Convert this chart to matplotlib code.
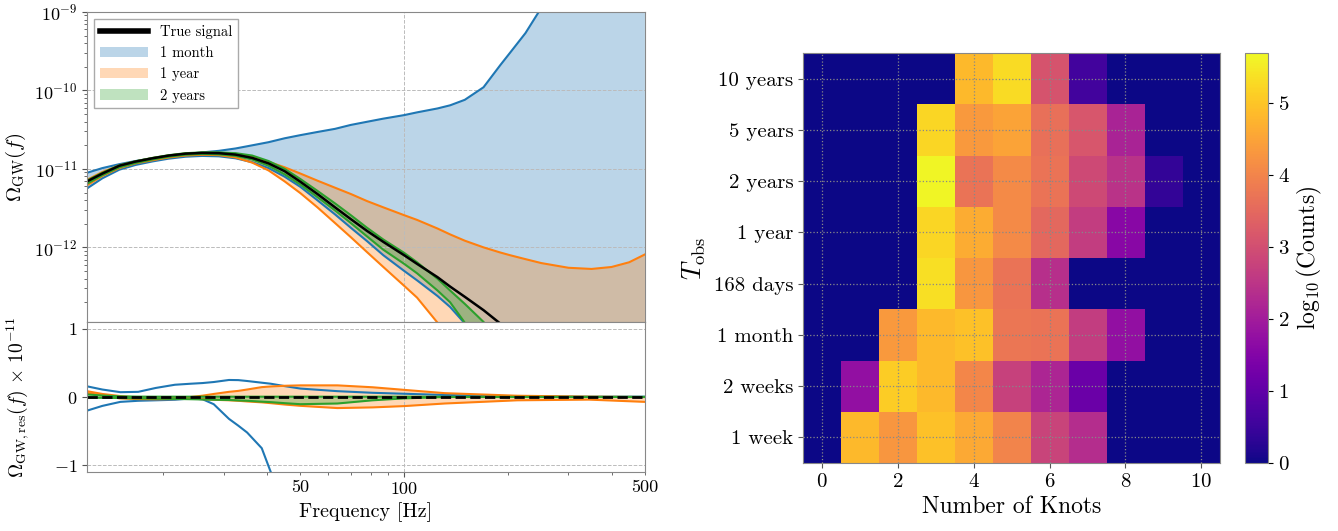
import numpy as np
import matplotlib
matplotlib.use("Agg")
import matplotlib.pyplot as plt
from matplotlib.ticker import FuncFormatter, LogLocator

plt.rcParams["font.family"] = "serif"
plt.rcParams["font.serif"] = ["cmr10"]
plt.rcParams["mathtext.fontset"] = "cm"
plt.rcParams["axes.unicode_minus"] = False
plt.rcParams["axes.formatter.use_mathtext"] = True

# reconstructed spectra, log10(Omega_GW)
freqs = [12, 13.3, 14.9, 16.6, 18.6, 20.7, 23.2, 25.9, 29, 32.4, 36.2, 40.4, 45, 50,
         56, 63, 70, 78, 87, 100, 109, 125, 136, 150, 170, 190, 203, 225, 250,
         300, 350, 400, 450, 500]
true_log = [-11.16, -11.06, -10.96, -10.907, -10.865, -10.831, -10.806, -10.797, -10.80,
            -10.818, -10.86, -10.93, -11.03, -11.165, -11.32, -11.49, -11.64, -11.79,
            -11.93, -12.10, -12.21, -12.38, -12.50, -12.63, -12.80, -12.97, -13.07,
            -13.2, -13.35, -13.6, -13.8, -14.0, -14.2, -14.4]
month_hi = [-11.05, -10.99, -10.94, -10.90, -10.865, -10.835, -10.81, -10.79, -10.77,
            -10.74, -10.70, -10.66, -10.61, -10.57, -10.53, -10.49, -10.44, -10.40,
            -10.36, -10.315, -10.28, -10.23, -10.19, -10.12, -9.96, -9.68, -9.52,
            -9.27, -8.95, -8.6, -8.3, -8.0, -7.8, -7.6]
month_lo = [-11.25, -11.12, -11.01, -10.95, -10.905, -10.87, -10.845, -10.835, -10.84,
            -10.865, -10.915, -10.99, -11.10, -11.23, -11.40, -11.58, -11.75, -11.92,
            -12.10, -12.30, -12.42, -12.62, -12.76, -12.97, -13.2, -13.45, -13.6,
            -13.8, -14.0, -14.4, -14.7, -15.0, -15.2, -15.4]
year_hi = [-11.14, -11.04, -10.955, -10.905, -10.862, -10.83, -10.805, -10.795, -10.795,
           -10.81, -10.85, -10.91, -10.98, -11.06, -11.15, -11.24, -11.32, -11.41,
           -11.49, -11.59, -11.65, -11.76, -11.835, -11.915, -12.0, -12.065, -12.10,
           -12.15, -12.20, -12.26, -12.275, -12.25, -12.19, -12.09]
year_lo = [-11.21, -11.09, -10.99, -10.93, -10.89, -10.855, -10.83, -10.82, -10.825,
           -10.855, -10.92, -11.02, -11.16, -11.31, -11.49, -11.69, -11.87, -12.06,
           -12.25, -12.49, -12.64, -12.96, -13.15, -13.4, -13.7, -14.0, -14.2,
           -14.4, -14.6, -15.0, -15.3, -15.6, -15.8, -16.0]
twoyr_hi = [-11.15, -11.05, -10.955, -10.903, -10.86, -10.826, -10.80, -10.79, -10.79,
            -10.80, -10.83, -10.90, -11.00, -11.13, -11.28, -11.44, -11.59, -11.75,
            -11.90, -12.07, -12.19, -12.40, -12.55, -12.72, -12.95, -13.2, -13.35,
            -13.5, -13.7, -14.0, -14.3, -14.5, -14.7, -14.9]
twoyr_lo = [-11.19, -11.08, -10.98, -10.925, -10.88, -10.845, -10.82, -10.81, -10.815,
            -10.835, -10.88, -10.96, -11.07, -11.20, -11.36, -11.53, -11.69, -11.86,
            -12.03, -12.21, -12.33, -12.55, -12.70, -12.96, -13.2, -13.45, -13.6,
            -13.8, -14.0, -14.3, -14.6, -14.9, -15.1, -15.3]

# residuals in units of 1e-11
res_freqs = [12, 13.3, 15, 16.9, 19, 21.6, 24, 26, 28, 31, 33, 35, 38.6, 41, 45, 50,
             64, 81, 100, 131, 213, 344, 500]
res_month_hi = [0.157, 0.11, 0.071, 0.076, 0.133, 0.18, 0.195, 0.205, 0.22, 0.25, 0.248,
                0.235, 0.21, 0.195, 0.16, 0.124, 0.086, 0.062, 0.048, 0.03, 0.012,
                0.005, 0.005]
res_month_lo = [-0.2, -0.13, -0.071, -0.055, -0.048, -0.04, -0.02, -0.033, -0.105, -0.32,
                -0.42, -0.52, -0.75, -1.1, -1.6, -2.2, -3.5, -5.0, -6.0, -8.0, -10.0,
                -12.0, -14.0]
res_year_hi = [0.086, 0.045, 0.014, -0.01, -0.02, -0.01, 0.0, 0.02, 0.045, 0.076, 0.09,
               0.11, 0.145, 0.155, 0.165, 0.171, 0.171, 0.143, 0.105, 0.057, 0.019,
               0.005, 0.0]
res_year_lo = [0.062, 0.02, -0.02, -0.03, -0.033, -0.03, -0.025, -0.03, -0.04, -0.048,
               -0.055, -0.065, -0.078, -0.09, -0.11, -0.129, -0.162, -0.152, -0.133,
               -0.095, -0.048, -0.038, -0.071]
res_twoyr_hi = [0.038, 0.022, 0.01, 0.006, 0.005, 0.005, 0.005, 0.005, 0.005, 0.005,
                0.005, 0.005, 0.005, 0.005, 0.005, 0.005, 0.005, 0.005, 0.005, 0.003,
                0.002, 0.002, 0.002]
res_twoyr_lo = [-0.01, -0.012, -0.015, -0.02, -0.024, -0.028, -0.032, -0.036, -0.04,
                -0.043, -0.05, -0.055, -0.068, -0.075, -0.09, -0.105, -0.095, -0.048,
                -0.02, 0.0, 0.0, 0.0, 0.0]

# knot-count histogram, log10(counts); rows bottom->top
knots = list(range(11))
tobs_labels = ["1 week", "2 weeks", "1 month", "168 days", "1 year", "2 years", "5 years", "10 years"]
log_counts = [
    [0, 4.85, 4.3, 4.95, 4.6, 4.0, 2.8, 2.35, 0, 0, 0],
    [0, 1.75, 5.1, 4.85, 4.05, 2.75, 2.2, 1.15, 0, 0, 0],
    [0, 0, 4.35, 4.85, 4.95, 3.75, 3.7, 2.65, 1.75, 0, 0],
    [0, 0, 0, 5.35, 4.3, 3.7, 2.4, 0, 0, 0, 0],
    [0, 0, 0, 5.25, 4.65, 4.1, 3.5, 2.65, 1.6, 0, 0],
    [0, 0, 0, 5.65, 3.7, 4.1, 3.7, 2.9, 2.45, 0.4, 0],
    [0, 0, 0, 5.25, 4.35, 4.5, 3.65, 3.15, 2.15, 0, 0],
    [0, 0, 0, 0, 4.85, 5.3, 3.1, 0.6, 0, 0, 0],
]


def style_axes(ax):
    for s in ax.spines.values():
        s.set_color("#888888")
    ax.tick_params(which="both", color="#555555")


def freq_label(v, pos):
    if np.isclose(v, 50) or np.isclose(v, 100) or np.isclose(v, 500):
        return f"{v:g}"
    return ""


def main():
    fig = plt.figure(figsize=(13.38, 5.31), dpi=100)
    ax_top = fig.add_axes([0.065, 0.3936, 0.417, 0.584])
    ax_bot = fig.add_axes([0.065, 0.111, 0.417, 0.2826], sharex=ax_top)
    ax_hm = fig.add_axes([0.6002, 0.128, 0.3117, 0.772])
    ax_cb = fig.add_axes([0.9305, 0.128, 0.0172, 0.772])

    f = np.array(freqs)
    bands = [("1 month", month_lo, month_hi, "C0"),
             ("1 year", year_lo, year_hi, "C1"),
             ("2 years", twoyr_lo, twoyr_hi, "C2")]
    for label, lo, hi, c in bands:
        lo = 10.0 ** np.array(lo)
        hi = 10.0 ** np.array(hi)
        ax_top.fill_between(f, lo, hi, color=c, alpha=0.3, lw=0, label=label)
        ax_top.plot(f, lo, color=c, lw=1.5)
        ax_top.plot(f, hi, color=c, lw=1.5)
    ax_top.plot(f, 10.0 ** np.array(true_log), color="k", lw=1.8, label="True signal")

    ax_top.set_xscale("log")
    ax_top.set_yscale("log")
    ax_top.set_xlim(12, 500)
    ax_top.set_ylim(1.12e-13, 1e-9)
    ax_top.set_ylabel(r"$\Omega_{\rm GW}(f)$", fontsize=15)
    ax_top.yaxis.set_label_coords(-0.105, 0.5)
    ax_top.grid(True, which="major", ls="--", lw=0.7, color="#bbbbbb")
    ax_top.tick_params(axis="x", which="both", labelbottom=False)
    ax_top.tick_params(axis="y", labelsize=13)
    handles, labels = ax_top.get_legend_handles_labels()
    order = [labels.index("True signal"), labels.index("1 month"),
             labels.index("1 year"), labels.index("2 years")]
    leg = ax_top.legend([handles[i] for i in order], [labels[i] for i in order],
                        loc="upper left", fontsize=10.5, fancybox=False, framealpha=1,
                        edgecolor="#aaaaaa", handlelength=3.3)
    leg.legend_handles[0].set_linewidth(4)
    style_axes(ax_top)

    rf = np.array(res_freqs)
    rbands = [(res_month_lo, res_month_hi, "C0", False),
              (res_year_lo, res_year_hi, "C1", True),
              (res_twoyr_lo, res_twoyr_hi, "C2", True)]
    for lo, hi, c, filled in rbands:
        if filled:
            ax_bot.fill_between(rf, lo, hi, color=c, alpha=0.3, lw=0)
        ax_bot.plot(rf, lo, color=c, lw=1.5)
        ax_bot.plot(rf, hi, color=c, lw=1.5)
    ax_bot.axhline(0, color="k", ls="--", lw=2)
    ax_bot.set_ylim(-1.1, 1.1)
    ax_bot.set_yticks([-1, 0, 1])
    ax_bot.set_xlim(12, 500)
    ax_bot.xaxis.set_major_locator(LogLocator(base=10))
    ax_bot.xaxis.set_minor_locator(LogLocator(base=10, subs=np.arange(2, 10)))
    ax_bot.xaxis.set_major_formatter(FuncFormatter(freq_label))
    ax_bot.xaxis.set_minor_formatter(FuncFormatter(freq_label))
    ax_bot.tick_params(axis="both", which="both", labelsize=13)
    ax_bot.set_xlabel("Frequency [Hz]", fontsize=14.5)
    ax_bot.set_ylabel(r"$\Omega_{\rm GW,res}(f)\,\times\,10^{-11}$", fontsize=14)
    ax_bot.yaxis.set_label_coords(-0.1, 0.5)
    ax_bot.grid(True, which="major", ls="--", lw=0.7, color="#bbbbbb")
    style_axes(ax_bot)

    im = ax_hm.imshow(np.array(log_counts), origin="lower", aspect="auto", cmap="plasma",
                      vmin=0, vmax=5.7, extent=(-0.5, 10.5, -0.5, 7.5))
    ax_hm.set_xticks(knots[::2])
    ax_hm.set_yticks(range(len(tobs_labels)))
    ax_hm.set_yticklabels(tobs_labels)
    ax_hm.tick_params(labelsize=15)
    ax_hm.set_xlabel("Number of Knots", fontsize=17)
    ax_hm.set_ylabel(r"$T_{\rm obs}$", fontsize=19)
    ax_hm.grid(True, ls=":", lw=0.9, color="#888888")
    style_axes(ax_hm)

    cb = fig.colorbar(im, cax=ax_cb)
    cb.set_ticks([0, 1, 2, 3, 4, 5])
    cb.ax.tick_params(labelsize=15)
    cb.set_label(r"$\log_{10}({\rm Counts})$", fontsize=17)
    cb.outline.set_edgecolor("#888888")

    fig.savefig("out.png", dpi=100)


if __name__ == "__main__":
    main()
